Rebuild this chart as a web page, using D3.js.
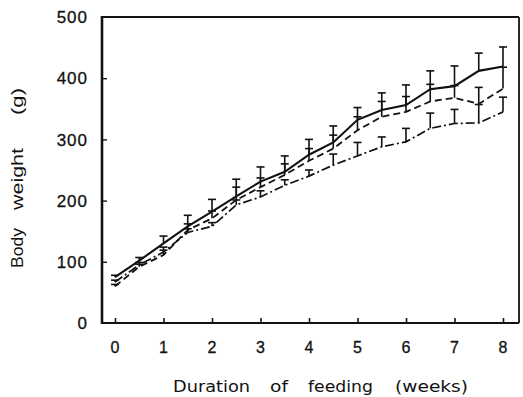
<!DOCTYPE html>
<html>
<head>
<meta charset="utf-8">
<script src="https://cdn.jsdelivr.net/npm/d3@7"></script>
<style>
  html, body { margin: 0; padding: 0; background: #fff; }
  svg { display: block; }
  text { fill: #111; }
</style>
</head>
<body>
<script>
// Data
const weeks = [0, 0.5, 1, 1.5, 2, 2.5, 3, 3.5, 4, 4.5, 5, 5.5, 6, 6.5, 7, 7.5, 8];

const solidMean = [75, 102, 130, 158, 182, 207, 231, 247, 275, 295, 332, 348, 356, 382, 387, 412, 419];
const solidErr = [3, 5, 12, 18, 20, 28, 24, 26, 25, 27, 20, 28, 33, 30, 33, 29, 32];

const dashMean = [60, 92, 111, 152, 171, 201, 222, 242, 265, 285, 315, 337, 345, 362, 368, 358, 383];
const dashErr = [3, 4, 8, 10, 12, 21, 15, 18, 20, 22, 22, 25, 25, 28, 20, 27, 35];

const dotMean = [67, 95, 116, 148, 158, 193, 206, 225, 240, 258, 273, 288, 296, 318, 326, 327, 345];
const dotErr = [3, 4, 8, 6, 6, 8, 10, 9, 10, 18, 22, 16, 22, 25, 23, 30, 24];

const xTicks = [0, 1, 2, 3, 4, 5, 6, 7, 8];
const yTicks = [0, 100, 200, 300, 400, 500];

const xTitleWords = ['Duration', 'of', 'feeding', '(weeks)'];
const yTitleWords = ['Body', 'weight', '(g)'];

// Layout
const W = 523, H = 397;
const FRAME = { left: 102, right: 519, top: 17, bottom: 323 };
const FONT = 'Liberation Sans, Arial, sans-serif';

const x = d3.scaleLinear().domain([0, 8]).range([115, 503]);
const y = d3.scaleLinear().domain([0, 500]).range([FRAME.bottom, FRAME.top]);

const svg = d3.select('body').append('svg')
  .attr('width', W)
  .attr('height', H);

// Frame
svg.append('line')
  .attr('x1', FRAME.left).attr('x2', FRAME.right)
  .attr('y1', FRAME.top).attr('y2', FRAME.top)
  .attr('stroke', '#111').attr('stroke-width', 1.8);
svg.append('line')
  .attr('x1', FRAME.right).attr('x2', FRAME.right)
  .attr('y1', FRAME.top).attr('y2', FRAME.bottom)
  .attr('stroke', '#111').attr('stroke-width', 1.8);

// Axes (ticks pointing inward)
const xAxis = d3.axisTop(x).tickValues(xTicks).tickSize(5).tickFormat('');
const yAxis = d3.axisRight(y).tickValues(yTicks.slice(1, -1)).tickSize(5).tickFormat('');

const gx = svg.append('g')
  .attr('transform', `translate(0,${FRAME.bottom})`)
  .call(xAxis);
gx.select('.domain').remove();
gx.selectAll('line').attr('stroke', '#111').attr('stroke-width', 1.6);

const gy = svg.append('g')
  .attr('transform', `translate(${FRAME.left},0)`)
  .call(yAxis);
gy.select('.domain').remove();
gy.selectAll('line').attr('stroke', '#111').attr('stroke-width', 1.4);

svg.append('line')
  .attr('x1', FRAME.left).attr('x2', FRAME.right)
  .attr('y1', FRAME.bottom).attr('y2', FRAME.bottom)
  .attr('stroke', '#111').attr('stroke-width', 2.2);
svg.append('line')
  .attr('x1', FRAME.left).attr('x2', FRAME.left)
  .attr('y1', FRAME.top - 1).attr('y2', FRAME.bottom + 1)
  .attr('stroke', '#111').attr('stroke-width', 2.6);

// Tick labels
svg.append('g').selectAll('text')
  .data(yTicks)
  .enter().append('text')
  .attr('x', 88)
  .attr('y', (d) => y(d))
  .attr('dy', '0.36em')
  .attr('text-anchor', 'end')
  .attr('font-family', FONT)
  .attr('font-size', 17)
  .attr('letter-spacing', 1)
  .attr('stroke', '#111').attr('stroke-width', 0.3)
  .text((d) => d);

svg.append('g').selectAll('text')
  .data(xTicks)
  .enter().append('text')
  .attr('x', (d) => x(d))
  .attr('y', 353)
  .attr('text-anchor', 'middle')
  .attr('font-family', FONT)
  .attr('font-size', 16)
  .attr('stroke', '#111').attr('stroke-width', 0.3)
  .text((d) => d);

// Axis titles, one word at a time to keep the wide gaps of the original
const xWordPos = [[173, 77], [270, 18], [308, 65], [395, 73]];
svg.append('g').selectAll('text')
  .data(xTitleWords)
  .enter().append('text')
  .attr('x', (d, i) => xWordPos[i][0])
  .attr('y', 392)
  .attr('textLength', (d, i) => xWordPos[i][1])
  .attr('lengthAdjust', 'spacingAndGlyphs')
  .attr('font-family', 'DejaVu Sans, sans-serif')
  .attr('font-size', 16)
  .text((d) => d);

const yWordPos = [[268, 40], [210, 62], [115, 27]];
svg.append('g').selectAll('text')
  .data(yTitleWords)
  .enter().append('text')
  .attr('transform', (d, i) => `translate(23,${yWordPos[i][0]}) rotate(-90)`)
  .attr('textLength', (d, i) => yWordPos[i][1])
  .attr('lengthAdjust', 'spacingAndGlyphs')
  .attr('font-family', FONT)
  .attr('font-size', 16)
  .text((d) => d);

// Series
const series = [
  { mean: dotMean, err: dotErr, dash: '9,3,2,3', width: 1.7 },
  { mean: dashMean, err: dashErr, dash: '7,4', width: 1.8 },
  { mean: solidMean, err: solidErr, dash: null, width: 2.1 },
];

const line = d3.line()
  .x((d) => x(d.w))
  .y((d) => y(d.m))
  .curve(d3.curveLinear);

series.forEach((s) => {
  const pts = weeks.map((w, i) => ({ w, m: s.mean[i], e: s.err[i] }));

  svg.append('path')
    .datum(pts)
    .attr('d', line)
    .attr('fill', 'none')
    .attr('stroke', '#111')
    .attr('stroke-width', s.width)
    .attr('stroke-dasharray', s.dash);

  const bars = svg.append('g');
  bars.selectAll('line.v')
    .data(pts)
    .enter().append('line')
    .attr('class', 'v')
    .attr('x1', (d) => x(d.w)).attr('x2', (d) => x(d.w))
    .attr('y1', (d) => y(d.m)).attr('y2', (d) => y(d.m + d.e))
    .attr('stroke', '#111').attr('stroke-width', 1.6);
  bars.selectAll('line.cap')
    .data(pts)
    .enter().append('line')
    .attr('class', 'cap')
    .attr('x1', (d) => x(d.w) - 4).attr('x2', (d) => x(d.w) + 4)
    .attr('y1', (d) => y(d.m + d.e)).attr('y2', (d) => y(d.m + d.e))
    .attr('stroke', '#111').attr('stroke-width', 1.6);
});
</script>
</body>
</html>
